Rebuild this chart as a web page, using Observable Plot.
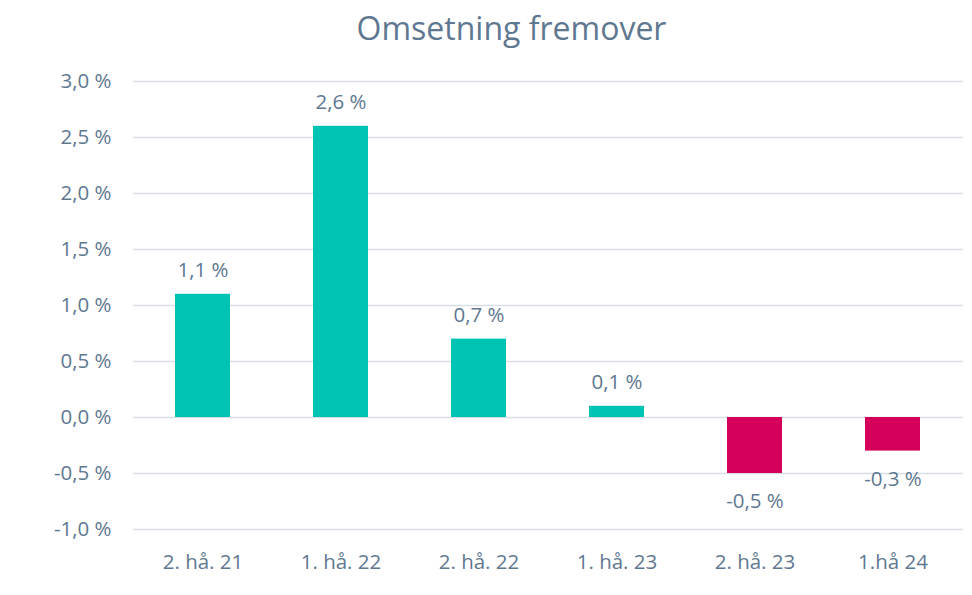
<!DOCTYPE html>
<html>
<head>
<meta charset="utf-8">
<script src="https://cdn.jsdelivr.net/npm/d3@7"></script>
<script src="https://cdn.jsdelivr.net/npm/@observablehq/plot@0.6"></script>
<style>
  html, body { margin: 0; padding: 0; background: #fff; }
  #title { position: relative; height: 60px; width: 903px; margin-left: 60px; text-align: center;
    font-family: "Open Sans", sans-serif; font-size: 32px; color: #5f7891; line-height: 56px; }
</style>
</head>
<body>
<div id="title">Omsetning fremover</div>
<div id="chart"></div>
<script>
const categories = ["2. hå. 21", "1. hå. 22", "2. hå. 22", "1. hå. 23", "2. hå. 23", "1.hå 24"];
const values = [1.1, 2.6, 0.7, 0.1, -0.5, -0.3];
const yTicks = [-1.0, -0.5, 0.0, 0.5, 1.0, 1.5, 2.0, 2.5, 3.0];

const data = categories.map((c, i) => ({category: c, value: values[i]}));
const fmt = v => v.toFixed(1).replace(".", ",") + " %";
const textColor = "#5f7891";

const chart = Plot.plot({
  width: 972,
  height: 535,
  marginLeft: 133,
  marginRight: 9,
  marginTop: 21,
  marginBottom: 66,
  style: {fontFamily: "Open Sans, sans-serif", fontSize: "20.5px", color: textColor, background: "#fff"},
  x: {domain: categories, paddingInner: 0.6, paddingOuter: 0.3, label: null, tickSize: 0, tickPadding: 25},
  y: {domain: [-1, 3], ticks: yTicks, tickFormat: fmt, label: null, tickSize: 0, tickPadding: 22},
  marks: [
    Plot.ruleY(yTicks, {stroke: "#d9dee4", strokeWidth: 1.5}),
    Plot.barY(data, {x: "category", y: "value", fill: d => d.value >= 0 ? "#00c4b3" : "#d5005a"}),
    Plot.text(data.filter(d => d.value >= 0), {x: "category", y: "value", text: d => fmt(d.value), dy: -24, fill: textColor, fontSize: 20.5}),
    Plot.text(data.filter(d => d.value < 0), {x: "category", y: "value", text: d => fmt(d.value), dy: 28, fill: textColor, fontSize: 20.5})
  ]
});
document.getElementById("chart").appendChild(chart);
</script>
</body>
</html>
